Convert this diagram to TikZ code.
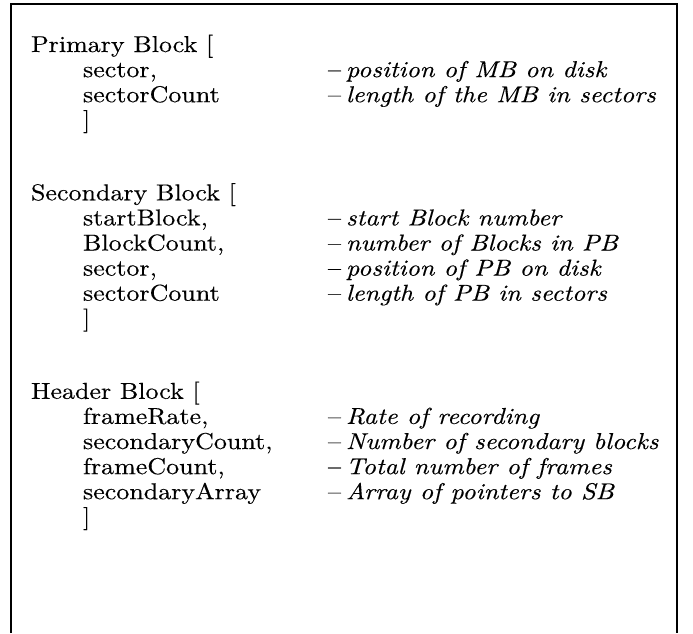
\documentclass[tikz,border=0pt]{standalone}
\usepackage{fontspec}
\setmainfont{lmroman10-regular.otf}[ItalicFont=lmroman10-italic.otf, FakeBold=0.3]
% text is set at 10pt and scaled up to the figure size
\newcommand\wide[1]{\scalebox{2.6}[2.3]{#1}}
\tikzset{
  txt/.style={anchor=base west, inner sep=0pt, outer sep=0pt},
  head/.style={txt},
  field/.style={txt},
  dashmark/.style={txt},
  note/.style={txt, font=\itshape},
  frame/.style={line width=1.6pt}
}
\begin{document}
\begin{tikzpicture}[x=1pt,y=-1pt]
\useasboundingbox (0,0) rectangle (693,633);
% open-bottomed frame
\coordinate (bl) at (11,633);
\coordinate (tl) at (11,4);
\coordinate (tr) at (677,4);
\coordinate (br) at (677,633);
\draw[frame] (bl) -- (tl) -- (tr) -- (br);

% Primary Block
\node[head]  (pb)    at (31,52)    {\wide{Primary Block [}};
\node[field] (pb1)   at (83,77.1)  {\wide{sector,}};
\node[dashmark] (pb1d) at (328,77.1) {\wide{\textendash}};
\node[note]  (pb1n)  at (346,77.1) {\wide{position of MB on disk}};
\node[field] (pb2)   at (83,102.2)  {\wide{sectorCount}};
\node[dashmark] (pb2d) at (328,102.2) {\wide{\textendash}};
\node[note]  (pb2n)  at (346,102.2) {\wide{length of the MB in sectors}};
\node[field] (pbe)   at (83,127.3) {\wide{]}};

% Secondary Block
\node[head]  (sb)    at (31,200.3)   {\wide{Secondary Block [}};
\node[field] (sb1)   at (83,225.4) {\wide{startBlock,}};
\node[dashmark] (sb1d) at (328,225.4) {\wide{\textendash}};
\node[note]  (sb1n)  at (346,225.4) {\wide{start Block number}};
\node[field] (sb2)   at (83,250.5) {\wide{BlockCount,}};
\node[dashmark] (sb2d) at (328,250.5) {\wide{\textendash}};
\node[note]  (sb2n)  at (346,250.5) {\wide{number of Blocks in PB}};
\node[field] (sb3)   at (83,275.6) {\wide{sector,}};
\node[dashmark] (sb3d) at (328,275.6) {\wide{\textendash}};
\node[note]  (sb3n)  at (346,275.6) {\wide{position of PB on disk}};
\node[field] (sb4)   at (83,300.7) {\wide{sectorCount}};
\node[dashmark] (sb4d) at (328,300.7) {\wide{\textendash}};
\node[note]  (sb4n)  at (346,300.7) {\wide{length of PB in sectors}};
\node[field] (sbe)   at (83,325.8)   {\wide{]}};

% Header Block
\node[head]  (hb)    at (31,398.8)   {\wide{Header Block [}};
\node[field] (hb1)   at (83,423.9) {\wide{frameRate,}};
\node[dashmark] (hb1d) at (328,423.9) {\wide{\textendash}};
\node[note]  (hb1n)  at (346,423.9) {\wide{Rate of recording}};
\node[field] (hb2)   at (83,449) {\wide{secondaryCount,}};
\node[dashmark] (hb2d) at (328,449) {\wide{\textendash}};
\node[note]  (hb2n)  at (346,449) {\wide{Number of secondary blocks}};
\node[field] (hb3)   at (83,474.1) {\wide{frameCount,}};
\node[dashmark] (hb3d) at (328,474.1) {\wide{\textendash}};
\node[note]  (hb3n)  at (346,474.1) {\wide{Total number of frames}};
\node[field] (hb4)   at (83,499.2) {\wide{secondaryArray}};
\node[dashmark] (hb4d) at (328,499.2) {\wide{\textendash}};
\node[note]  (hb4n)  at (346,499.2) {\wide{Array of pointers to SB}};
\node[field] (hbe)   at (83,524.3)   {\wide{]}};
\end{tikzpicture}
\end{document}
